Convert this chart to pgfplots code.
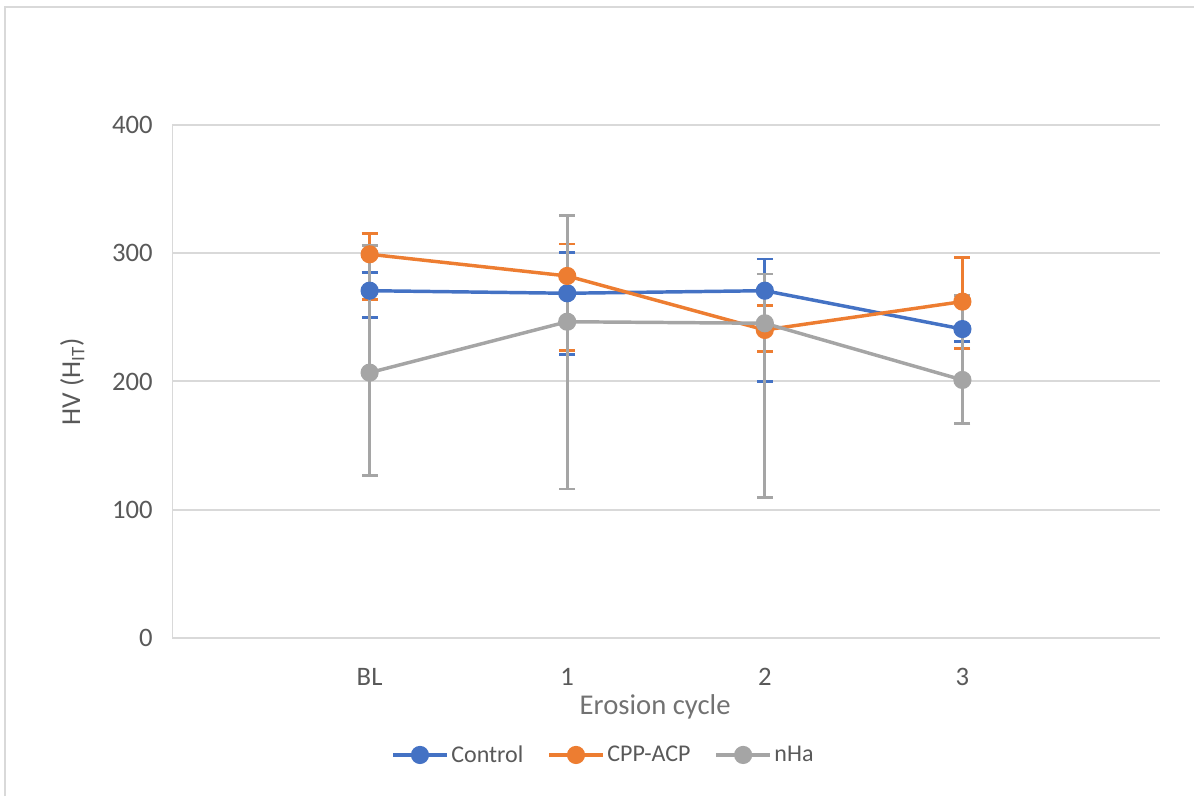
\documentclass[border=0pt]{standalone}
\usepackage{pgfplots}
\pgfplotsset{compat=1.18}
\usepackage{fontspec}
\setmainfont{Carlito}
\definecolor{cA}{HTML}{4472C4}
\definecolor{cB}{HTML}{ED7D31}
\definecolor{cC}{HTML}{A5A5A5}
\definecolor{txt}{HTML}{595959}
\definecolor{grd}{HTML}{D9D9D9}
\begin{document}
\begin{tikzpicture}
\path[use as bounding box] (0,0) rectangle (895.5pt,597pt);
\draw[grd, line width=1.5pt] (3.75pt,0) -- (3.75pt,591.75pt) -- (895.5pt,591.75pt);
\begin{axis}[
  at={(129pt,118.5pt)}, anchor=south west,
  scale only axis, width=741pt, height=384.75pt,
  xmin=0, xmax=5, ymin=0, ymax=400,
  xtick={1,2,3,4}, xticklabels={BL,1,2,3},
  ytick={0,100,200,300,400},
  /pgf/number format/assume math mode=true,
  major tick length=0pt,
  axis line style={draw=none},
  ymajorgrids, grid style={grd, line width=1.5pt},
  every tick label/.append style={font=\fontsize{20}{23}\selectfont, text=txt},
  yticklabel style={xshift=-11pt},
  xticklabel style={yshift=-19pt},
  xlabel={Erosion cycle},
  xlabel style={at={(axis description cs:0.489,-0.135)}, anchor=center, font=\fontsize{21.5}{25}\selectfont, text=txt!85},
  ylabel={HV (H\textsubscript{IT})},
  ylabel style={at={(axis description cs:-0.101,0.5)}, anchor=center, rotate=0, font=\fontsize{20.5}{24}\selectfont, text=txt},
  legend style={at={(axis description cs:0.437,-0.228)}, anchor=center, draw=none, fill=none, legend columns=3,
    font=\fontsize{18}{21}\selectfont, text=txt, /tikz/every even column/.append style={column sep=16pt},
    /tikz/every odd column/.append style={column sep=0pt}},
  legend image code/.code={\draw[mark repeat=2,mark phase=2] plot coordinates {(0cm,0cm)(0.71cm,0cm)(1.42cm,0cm)};},
  every axis plot/.append style={line width=2.6pt, mark=*, mark size=5.5pt, mark options={solid}},
  error bars/y dir=both, error bars/y explicit,
  error bars/error mark options={rotate=90, mark size=6pt, line width=2.2pt},
  error bars/error bar style={line width=2.2pt},
]
\draw[grd, line width=1.5pt] (axis cs:0,0) -- (axis cs:0,400);
\draw[grd, line width=1.5pt] (axis cs:0,0) -- (axis cs:5,0);
\addplot[color=cA, error bars/error bar style={cA, line width=2.2pt}] coordinates {
  (1,270.8) += (0,14) -= (0,20.8)
  (2,268.8) += (0,31.9) -= (0,47.6)
  (3,270.8) += (0,24.7) -= (0,70.9)
  (4,240.9) += (0,26.5) -= (0,9.9)
};
\addlegendentry{Control}
\addplot[color=cB, error bars/error bar style={cB, line width=2.2pt}] coordinates {
  (1,299.2) += (0,16.3) -= (0,35.1)
  (2,282.3) += (0,24.9) -= (0,58.3)
  (3,240.2) += (0,19.2) -= (0,17.0)
  (4,262.3) += (0,34.5) -= (0,36.7)
};
\addlegendentry{CPP-ACP}
\addplot[color=cC, error bars/error bar style={cC, line width=2.2pt}] coordinates {
  (1,206.9) += (0,99.0) -= (0,80.0)
  (2,246.6) += (0,82.7) -= (0,130.4)
  (3,245.4) += (0,38.4) -= (0,135.5)
  (4,201.2) += (0,66.0) -= (0,33.8)
};
\addlegendentry{nHa}
\end{axis}
\end{tikzpicture}
\end{document}
